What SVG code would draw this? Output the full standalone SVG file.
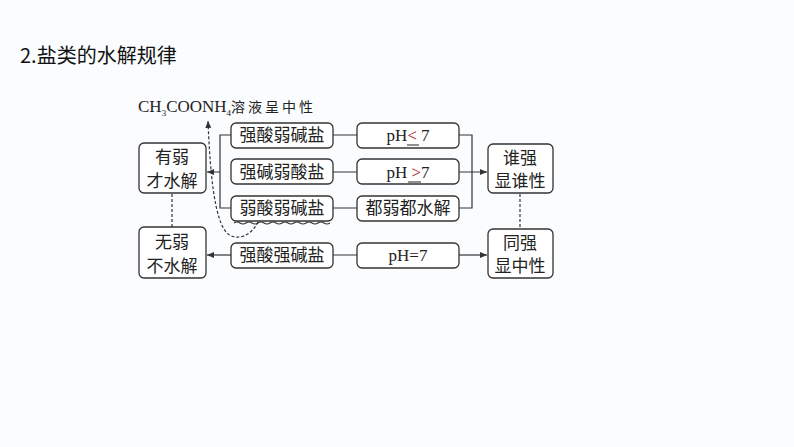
<svg xmlns="http://www.w3.org/2000/svg" width="794" height="447" viewBox="0 0 794 447">
<style>
.b{fill:#fff;stroke:#333;stroke-width:1.3}
.t{font-family:"Liberation Serif","Noto Sans CJK SC",serif;font-size:17px;fill:#222;text-anchor:middle}
.c{stroke:#333;stroke-width:1.2;fill:none}
</style>
<defs><marker id="a" markerWidth="8" markerHeight="8" refX="7" refY="4" orient="auto" markerUnits="userSpaceOnUse"><path d="M0,1 L7,4 L0,7Z" fill="#333"/></marker></defs>
<rect width="794" height="447" fill="#fafcfe"/>
<text x="20" y="63" font-family="Noto Sans CJK SC,sans-serif" font-size="20" fill="#111">2.盐类的水解规律</text>
<text x="138" y="112" font-family="Liberation Serif,Noto Sans CJK SC,serif" font-size="17" fill="#222">CH<tspan font-size="9" dy="4">3</tspan><tspan dy="-4">COONH</tspan><tspan font-size="9" dy="4">4</tspan><tspan dy="-4" font-size="14" letter-spacing="3">溶液呈中性</tspan></text>
<g id="connectors">
<path class="c" d="M231,135H220V208H231M220,172H207" marker-end="url(#a)"/>
<path class="c" d="M333,135H357M333,172H357M333,208H357M333,255H357"/>
<path class="c" d="M459,135H472V208H459M459,172H487" marker-end="url(#a)"/>
<path class="c" d="M231,255H207" marker-end="url(#a)"/>
<path class="c" d="M459,255H487" marker-end="url(#a)"/>
<path class="c" d="M172,194V227M520,194V229" stroke-dasharray="3,2"/>
<path class="c" d="M258,222C250,238 236,240 228,234C214,222 210,170 208,121" stroke-dasharray="3,2" marker-end="url(#a)"/>
<path class="c" d="M234,223q3,-2 6,0t6,0t6,0t6,0t6,0t6,0t6,0t6,0t6,0t6,0t6,0t6,0t6,0t6,0t6,0t6,0"/>
</g>
<g id="n1"><rect class="b" x="139" y="143" width="67" height="50" rx="5"/><text class="t" x="172" y="163">有弱</text><text class="t" x="172" y="187">才水解</text></g>
<g id="n2"><rect class="b" x="139" y="227" width="67" height="51" rx="5"/><text class="t" x="172" y="248">无弱</text><text class="t" x="172" y="272">不水解</text></g>
<g id="s1"><rect class="b" x="231" y="123" width="102" height="25" rx="5"/><text class="t" x="282" y="141">强酸弱碱盐</text></g>
<g id="s2"><rect class="b" x="231" y="159" width="102" height="25" rx="5"/><text class="t" x="282" y="178">强碱弱酸盐</text></g>
<g id="s3"><rect class="b" x="231" y="196" width="102" height="25" rx="5"/><text class="t" x="282" y="214">弱酸弱碱盐</text></g>
<g id="s4"><rect class="b" x="231" y="243" width="102" height="25" rx="5"/><text class="t" x="282" y="261">强酸强碱盐</text></g>
<g id="p1"><rect class="b" x="357" y="123" width="102" height="25" rx="5"/><text class="t" x="408" y="141">pH<tspan fill="#a0141e">&lt;</tspan> 7</text><path d="M407,145H419" stroke="#222" stroke-width="1"/></g>
<g id="p2"><rect class="b" x="357" y="159" width="102" height="25" rx="5"/><text class="t" x="408" y="178">pH <tspan fill="#a0141e">&gt;</tspan>7</text><path d="M408,182H421" stroke="#222" stroke-width="1"/></g>
<g id="p3"><rect class="b" x="357" y="196" width="102" height="25" rx="5"/><text class="t" x="408" y="214">都弱都水解</text></g>
<g id="p4"><rect class="b" x="357" y="243" width="102" height="25" rx="5"/><text class="t" x="408" y="261">pH=7</text></g>
<g id="r1"><rect class="b" x="488" y="144" width="65" height="49" rx="5"/><text class="t" x="520" y="164">谁强</text><text class="t" x="520" y="187">显谁性</text></g>
<g id="r2"><rect class="b" x="488" y="229" width="65" height="49" rx="5"/><text class="t" x="520" y="249">同强</text><text class="t" x="520" y="272">显中性</text></g>
</svg>
